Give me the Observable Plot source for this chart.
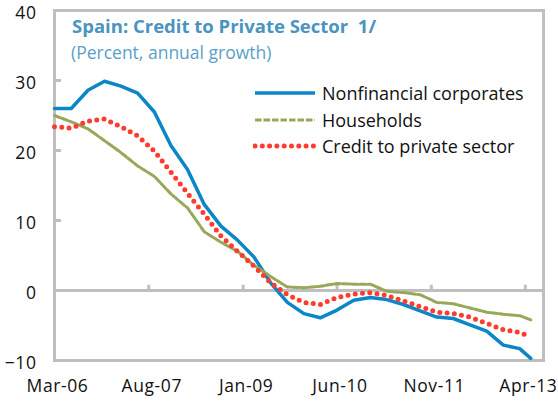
<!DOCTYPE html>
<html><head><meta charset="utf-8">
<script src="https://cdn.jsdelivr.net/npm/d3@7"></script>
<script src="https://cdn.jsdelivr.net/npm/@observablehq/plot@0.6"></script>
<style>
body{margin:0;background:#fff;}
#wrap{position:relative;width:558px;height:403px;font-family:"Open Sans",sans-serif;}
#wrap > svg{position:absolute;left:0;top:0;}
#wrap > svg text{letter-spacing:0.6px;}
#title{position:absolute;left:72px;top:13px;font-weight:bold;font-size:18.5px;color:#4a94bf;white-space:pre;line-height:26px;}
#subtitle{position:absolute;left:71px;top:40px;font-size:17.5px;color:#5a9fc9;white-space:pre;line-height:24px;}
#legend{position:absolute;left:253px;top:80px;font-size:18px;color:#111;}
#legend .row{display:flex;align-items:center;height:26.5px;white-space:nowrap;}
#legend svg{position:static;margin-right:5px;}
</style></head><body><div id="wrap"></div>
<script>
// Data, quarterly samples
const months = ["2006-03","2006-06","2006-09","2006-12","2007-03","2007-06","2007-09","2007-12",
  "2008-03","2008-06","2008-09","2008-12","2009-03","2009-06","2009-09","2009-12",
  "2010-03","2010-06","2010-09","2010-12","2011-03","2011-06","2011-09","2011-12",
  "2012-03","2012-06","2012-09","2012-12","2013-03","2013-05"];
const nonfinancial = [26.0,26.0,28.6,29.9,29.2,28.2,25.5,20.7,17.3,12.3,9.2,7.2,4.8,1.1,-1.7,-3.3,
  -3.9,-2.8,-1.4,-1.0,-1.3,-2.0,-2.9,-3.8,-4.0,-4.9,-5.8,-7.8,-8.3,-9.7];
const households = [25.0,24.1,23.1,21.4,19.7,17.8,16.3,13.8,11.8,8.4,6.9,5.6,3.6,2.0,0.5,0.4,
  0.6,1.0,0.9,0.9,-0.1,-0.3,-0.6,-1.7,-1.9,-2.5,-3.1,-3.4,-3.6,-4.2];
const creditPrivate = [23.4,23.2,24.2,24.5,23.4,22.1,19.9,16.9,13.9,10.9,7.8,5.6,3.5,1.1,-0.6,-1.7,
  -2.0,-1.0,-0.5,-0.3,-0.7,-1.5,-2.3,-3.1,-3.3,-3.8,-4.7,-5.6,-6.0,-6.6];
const seriesNames = ["Nonfinancial corporates","Households","Credit to private sector"];
const seriesColors = ["#0b86c6","#98a85a","#ff3b2f"];
const xTickLabels = ["Mar-06","Aug-07","Jan-09","Jun-10","Nov-11","Apr-13"];
const xTickMonths = ["2006-03","2007-08","2009-01","2010-06","2011-11","2013-04"];
const yTicks = [-10,0,10,20,30,40];
const titleText = "Spain: Credit to Private Sector  1/";
const subtitleText = "(Percent, annual growth)";

const parse = m => new Date(m + "-01T00:00:00Z");
const rows = months.map((m, i) => ({date: parse(m), nfc: nonfinancial[i], hh: households[i], cps: creditPrivate[i]}));
const tickDates = xTickMonths.map(parse);
const labelOf = new Map(tickDates.map((d, i) => [+d, xTickLabels[i]]));
const gray = "#bfbfbf";

const chart = Plot.plot({
  width: 558, height: 403,
  marginLeft: 54, marginRight: 15, marginTop: 10, marginBottom: 43,
  style: {fontFamily: "Open Sans, sans-serif", fontSize: "17px", color: "#111", background: "transparent"},
  x: {type: "utc", domain: [parse("2006-03"), new Date(Date.UTC(2013, 6, 10))]},
  y: {domain: [-10, 40]},
  marks: [
    Plot.axisY({ticks: yTicks, tickSize: 0, tickPadding: 18, fontSize: 17.5, dy: 2.5}),
    Plot.axisX({ticks: tickDates, tickFormat: d => labelOf.get(+d), tickSize: 0, tickPadding: 19, fontSize: 17.5, dx: 3}),
    Plot.ruleY([0], {stroke: gray, strokeWidth: 3}),
    Plot.ruleY(yTicks, {y: d => d, stroke: gray, strokeWidth: 3, insetRight: 482}),
    Plot.ruleX(tickDates.slice(1), {x: d => d, y1: 0, y2: 0.75, stroke: gray, strokeWidth: 3}),
    Plot.frame({stroke: gray, strokeWidth: 3}),
    Plot.line(rows, {x: "date", y: "nfc", stroke: seriesColors[0], strokeWidth: 3.5}),
    Plot.line(rows, {x: "date", y: "hh", stroke: seriesColors[1], strokeWidth: 3, strokeDasharray: "6.5,2"}),
    Plot.line(rows, {x: "date", y: "cps", stroke: seriesColors[2], strokeWidth: 5, strokeDasharray: "0,7.3", strokeLinecap: "round"})
  ]
});

const wrap = document.getElementById("wrap");
wrap.appendChild(chart);
const t = document.createElement("div"); t.id = "title"; t.textContent = titleText; wrap.appendChild(t);
const s = document.createElement("div"); s.id = "subtitle"; s.textContent = subtitleText; wrap.appendChild(s);
const lg = document.createElement("div"); lg.id = "legend";
const styles = [{w: 3.5, dash: null, cap: "butt"}, {w: 3, dash: "6.5,2", cap: "butt"}, {w: 5, dash: "0,7.3", cap: "round"}];
seriesNames.forEach((name, i) => {
  const row = document.createElement("div"); row.className = "row";
  const st = styles[i];
  row.innerHTML = `<svg width="64" height="10"><line x1="2" y1="5" x2="62" y2="5" stroke="${seriesColors[i]}" stroke-width="${st.w}" ${st.dash ? `stroke-dasharray="${st.dash}"` : ""} stroke-linecap="${st.cap}"/></svg><span></span>`;
  row.querySelector("span").textContent = name;
  lg.appendChild(row);
});
wrap.appendChild(lg);
</script></body></html>
